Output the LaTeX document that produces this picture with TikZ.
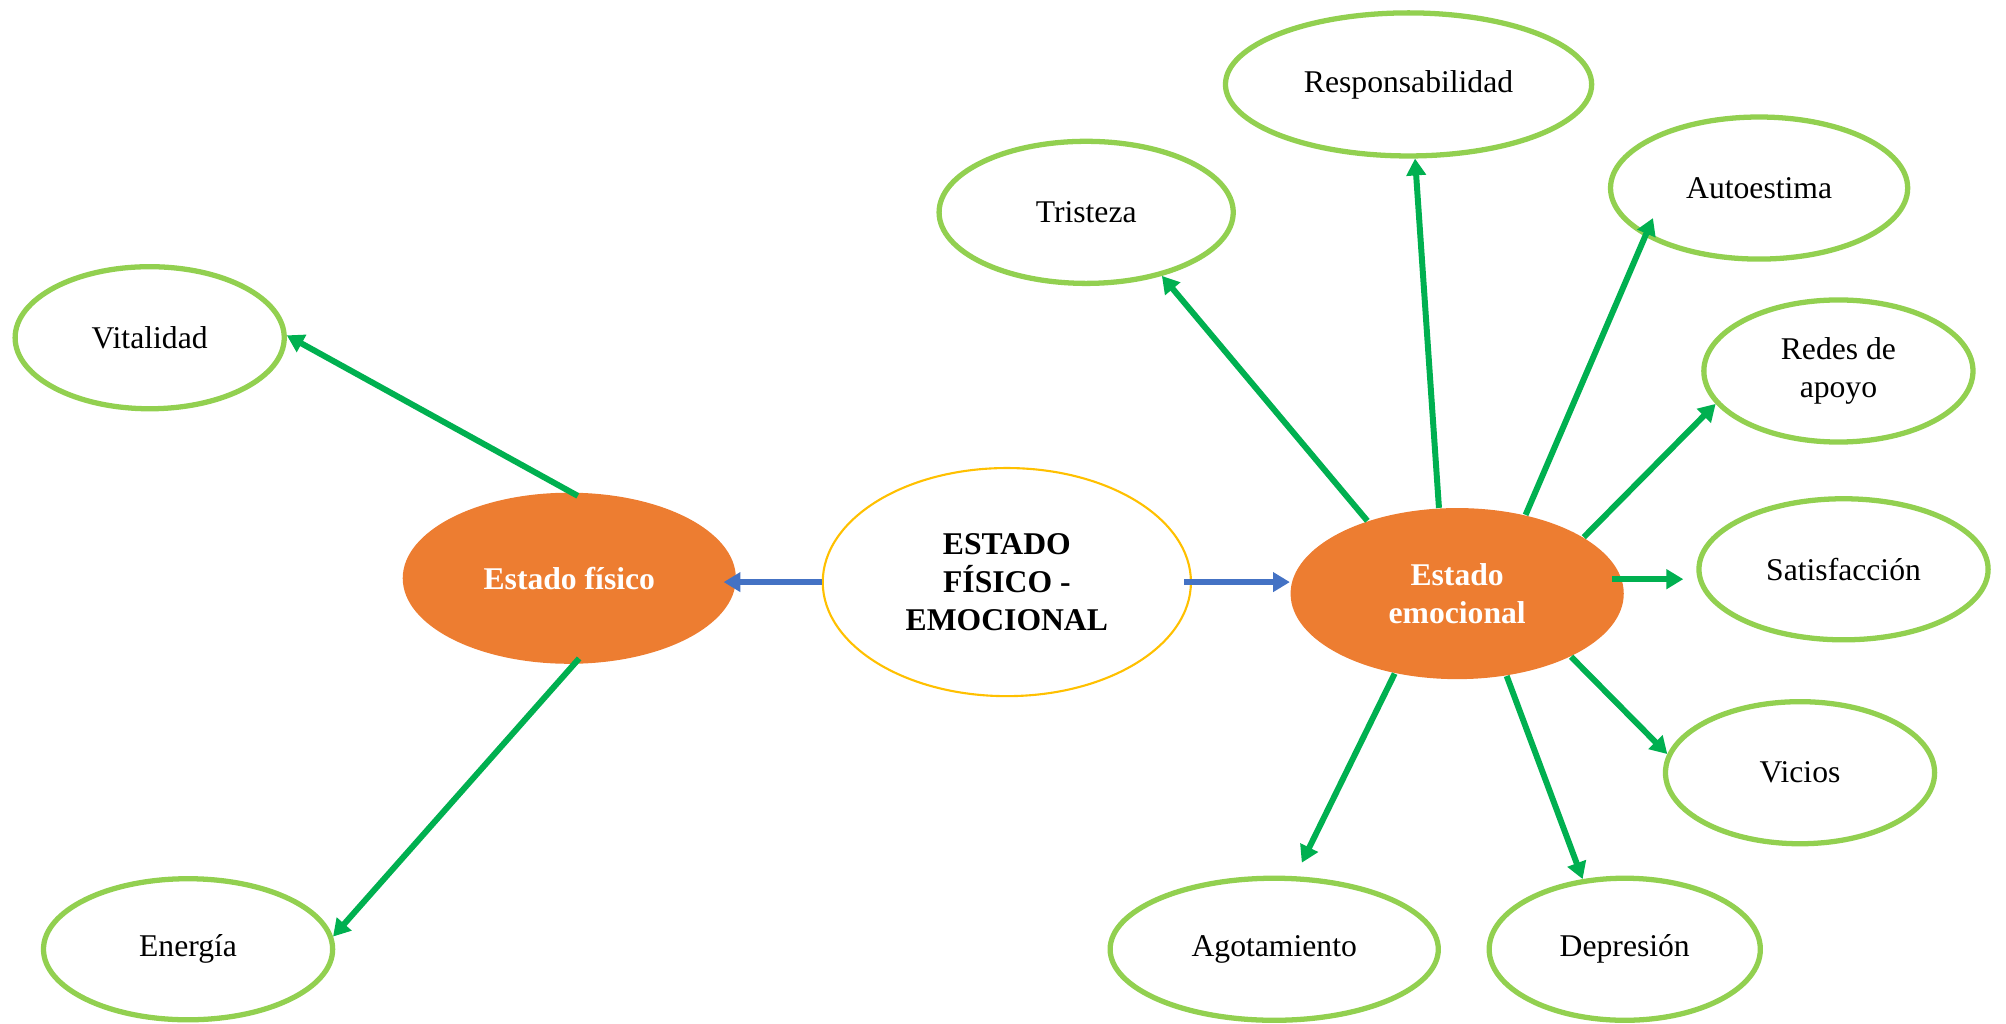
\documentclass[tikz,border=0pt]{standalone}
\usepackage{fontspec}
\setmainfont{Liberation Serif}
\usetikzlibrary{shapes.geometric,arrows.meta}
\definecolor{naranja}{RGB}{237,125,49}
\definecolor{verdeclaro}{RGB}{146,208,80}
\definecolor{verde}{RGB}{0,176,80}
\definecolor{azul}{RGB}{68,114,196}
\definecolor{ambar}{RGB}{255,192,0}
\tikzset{
  hoja/.style={ellipse,draw=verdeclaro,line width=1.5pt,inner sep=0pt,align=center,
    font=\fontsize{9}{10.8}\selectfont},
  rama/.style={ellipse,fill=naranja,inner sep=0pt,align=center,text=white,
    font=\fontsize{9}{10.8}\selectfont\bfseries},
  flecha/.style={draw=verde,line width=1.7pt,-{Triangle[length=4.8pt,width=5.4pt]}},
  flechaazul/.style={draw=azul,line width=1.7pt,-{Triangle[length=4.8pt,width=5.4pt]}}
}
\newcommand{\nodohoja}[5]{\node[hoja,minimum width=#3cm,minimum height=#4cm] (#1) at #2 {#5};}

\begin{document}
\begin{tikzpicture}[x=0.012793cm,y=-0.012793cm]
\useasboundingbox (0,0) rectangle (1568,800);
% centro
\node[ellipse,draw=ambar,line width=0.6pt,minimum width=3.68cm,minimum height=2.28cm,
  inner sep=0pt,align=center,font=\fontsize{9}{10.8}\selectfont\bfseries] (cen) at (787,455)
  {ESTADO\\FÍSICO -\\EMOCIONAL};
\node[rama,minimum width=3.33cm,minimum height=1.71cm] (fis) at (445,452) {Estado físico};
\node[rama,minimum width=3.33cm,minimum height=1.71cm] (emo) at (1139,464) {Estado\\emocional};
% hojas
\nodohoja{vit}{(117,264)}{2.69}{1.42}{Vitalidad}
\nodohoja{ene}{(147,742)}{2.89}{1.41}{Energía}
\nodohoja{tri}{(849,166)}{2.94}{1.42}{Tristeza}
\nodohoja{res}{(1101,66)}{3.66}{1.43}{Responsabilidad}
\nodohoja{aut}{(1375,147)}{2.97}{1.42}{Autoestima}
\nodohoja{red}{(1437,290)}{2.69}{1.42}{Redes de\\apoyo}
\nodohoja{sat}{(1441,445)}{2.89}{1.41}{Satisfacción}
\nodohoja{vic}{(1407,604)}{2.69}{1.42}{Vicios}
\nodohoja{ago}{(996,742)}{3.28}{1.42}{Agotamiento}
\nodohoja{dep}{(1270,742)}{2.71}{1.42}{Depresión}
% flechas
\draw[flechaazul,shorten >=-0.13cm] (cen.west) -- (cen.west -| fis.east);
\draw[flechaazul,shorten <=-0.08cm] (cen.east) -- (cen.east -| emo.west);
\draw[flecha,shorten <=-0.08cm] (fis.89) -- (vit.1);
\draw[flecha,shorten <=-0.08cm] (fis.-87) -- (ene.5);
\draw[flecha] (emo.141) -- (tri.-40);
\draw[flecha] (emo.102) -- (res.-85);
\draw[flecha,shorten >=-0.2cm] (emo.49) -- (aut.203);
\draw[flecha] (emo.24) -- (red.195);
\draw[flecha,shorten <=-0.1cm,shorten >=0.13cm] (emo.5) -- (emo.5 -| sat.west);
\draw[flecha] (emo.-29) -- (vic.172);
\draw[flecha] (emo.-59) -- (dep.121);
\draw[flecha,shorten >=0.15cm] (emo.-128) -- (ago.74);
\end{tikzpicture}
\end{document}
